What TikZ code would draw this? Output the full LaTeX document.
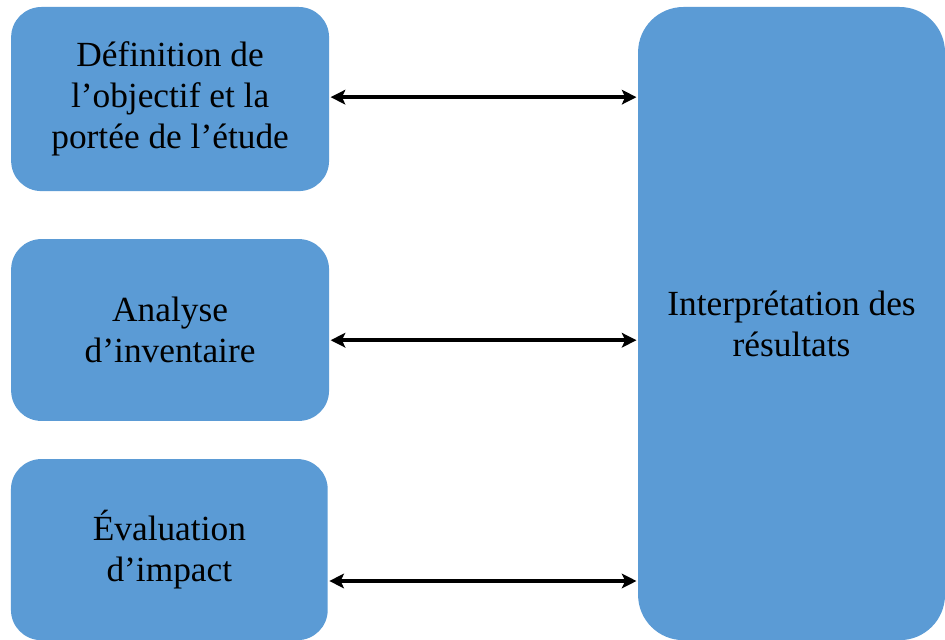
\documentclass[tikz,border=0pt]{standalone}
\usepackage{fontspec}
\setmainfont{Liberation Serif}
\usepackage{tikz}
\usetikzlibrary{arrows.meta}

\definecolor{stageblue}{HTML}{5B9BD5}

\begin{document}
\begin{tikzpicture}[
    stage/.style={fill=stageblue, rounded corners=0.8cm, align=center,
        font=\fontsize{26.6}{31}\selectfont, inner sep=0pt},
    link/.style={line width=2.8pt, {Stealth[length=11pt,width=11pt,inset=2.5pt]}-{Stealth[length=11pt,width=11pt,inset=2.5pt]}}
]
    \useasboundingbox (0,0) rectangle (25,-16.93);

    % Phases on the left
    \node[stage, minimum width=8.41cm, minimum height=4.87cm] (def) at (4.50,-2.62)
        {Définition de\\l’objectif et la\\portée de l’étude};
    \node[stage, minimum width=8.41cm, minimum height=4.81cm] (ana) at (4.50,-8.73)
        {Analyse\\d’inventaire};
    \node[stage, minimum width=8.38cm, minimum height=4.79cm] (eva) at (4.48,-14.54)
        {Évaluation\\d’impact};

    % Interpretation on the right
    \node[stage, rounded corners=1.2cm, minimum width=8.12cm, minimum height=16.75cm] (res) at (20.94,-8.56)
        {Interprétation des\\résultats};

    % Two-way links
    \foreach \n/\dy in {def/0.05, ana/-0.27, eva/-0.83} {
        \draw[link] ([yshift=\dy cm, xshift=1pt]\n.east) -- ([yshift=\dy cm, xshift=-1pt]\n.east -| res.west);
    }
\end{tikzpicture}
\end{document}
